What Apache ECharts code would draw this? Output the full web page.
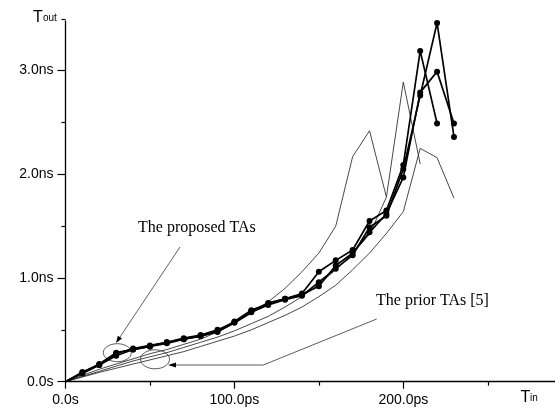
<!DOCTYPE html>
<html>
<head>
<meta charset="utf-8">
<script src="https://cdn.jsdelivr.net/npm/echarts@6/dist/echarts.min.js"></script>
<style>
  html, body { margin: 0; padding: 0; background: #fff; }
  #main { width: 555px; height: 408px; }
</style>
</head>
<body>
<div id="main"></div>
<script>
// input transition time, ps
const tin = [0, 10, 20, 30, 40, 50, 60, 70, 80, 90, 100, 110, 120, 130, 140, 150, 160, 170, 180, 190, 200, 210, 220, 230]

// proposed TAs (thick, dotted), ns
const propA = [0, 0.09, 0.17, 0.28, 0.31, 0.34, 0.38, 0.41, 0.44, 0.49, 0.58, 0.69, 0.75, 0.80, 0.85, 1.06, 1.17, 1.27, 1.55, 1.65, 2.09, 3.19, 2.49]
const propB = [0, 0.08, 0.16, 0.25, 0.31, 0.34, 0.37, 0.41, 0.44, 0.48, 0.57, 0.67, 0.74, 0.79, 0.83, 0.96, 1.09, 1.22, 1.49, 1.60, 2.05, 2.76, 3.46, 2.36]
const propC = [0, 0.09, 0.16, 0.27, 0.32, 0.35, 0.38, 0.42, 0.45, 0.50, 0.57, 0.68, 0.76, 0.80, 0.84, 0.92, 1.12, 1.24, 1.44, 1.62, 1.97, 2.79, 2.99, 2.49]

// prior TAs [5] (thin), ns
const priorA = [0, 0.06, 0.12, 0.17, 0.22, 0.27, 0.31, 0.36, 0.41, 0.48, 0.56, 0.66, 0.77, 0.90, 1.06, 1.24, 1.50, 2.17, 2.42, 1.78]
const priorB = [0, 0.05, 0.10, 0.15, 0.20, 0.24, 0.28, 0.33, 0.38, 0.43, 0.49, 0.56, 0.63, 0.72, 0.82, 0.94, 1.08, 1.24, 1.42, 1.78, 2.89, 2.10]
const priorC = [0, 0.045, 0.09, 0.13, 0.17, 0.21, 0.25, 0.29, 0.34, 0.39, 0.44, 0.50, 0.57, 0.64, 0.72, 0.82, 0.93, 1.08, 1.24, 1.43, 1.64, 2.25, 2.16, 1.77]

const pair = arr => arr.map((v, i) => [tin[i], v])

const chart = echarts.init(document.getElementById('main'))

const thick = (name, arr) => ({
  name, type: 'line', data: pair(arr),
  symbol: 'circle',
  symbolSize: v => v[0] === 0 ? 0 : 6,
  lineStyle: { color: '#000', width: 1.7 },
  itemStyle: { color: '#000' },
  animation: false, z: 3
})
const thin = (name, arr) => ({
  name, type: 'line', data: pair(arr),
  symbol: 'none',
  lineStyle: { color: '#333', width: 0.9 },
  animation: false, z: 2
})

const font = 'Liberation Sans, Arial, sans-serif'
const serif = 'Liberation Serif, Times New Roman, serif'

chart.setOption({
  backgroundColor: '#fff',
  grid: [
    { left: 65.5, right: -17.2, top: -33.1, bottom: 26.3, outerBoundsMode: 'none', containLabel: false },
    { left: 65.5, right: -17.2, top: 21, bottom: 26.3, outerBoundsMode: 'none', containLabel: false }
  ],
  xAxis: [{
    type: 'value', min: 0, max: 300, interval: 100, gridIndex: 0,
    axisLine: { lineStyle: { color: '#000', width: 1.3 } },
    axisTick: { length: 7, lineStyle: { color: '#000', width: 1.2 } },
    minorTick: { show: true, splitNumber: 2, length: 4, lineStyle: { color: '#000', width: 1.2 } },
    splitLine: { show: false },
    axisLabel: {
      margin: 11, color: '#000', fontSize: 14, fontFamily: font,
      formatter: v => v === 0 ? '0.0s' : (v > 250 ? '' : v.toFixed(1) + 'ps')
    }
  }, {
    type: 'value', min: 0, max: 300, gridIndex: 1, show: false
  }],
  yAxis: [{
    type: 'value', min: 0, max: 4, interval: 1, gridIndex: 0,
    axisLine: { show: false },
    axisTick: { length: 8, lineStyle: { color: '#000', width: 1.2 } },
    minorTick: { show: true, splitNumber: 2, length: 4, lineStyle: { color: '#000', width: 1.2 } },
    splitLine: { show: false },
    axisLabel: {
      margin: 12, color: '#000', fontSize: 14, fontFamily: font,
      formatter: v => v === 0 ? '0.0s' : (v > 3.5 ? '' : v.toFixed(1) + 'ns')
    }
  }, {
    type: 'value', min: 0, max: 3.48, gridIndex: 1,
    axisLine: { show: true, lineStyle: { color: '#000', width: 1.3 } },
    axisTick: { show: false }, axisLabel: { show: false }, splitLine: { show: false }
  }],
  series: [
    thin('prior A', priorA),
    thin('prior B', priorB),
    thin('prior C', priorC),
    thick('proposed A', propA),
    thick('proposed B', propB),
    thick('proposed C', propC)
  ],
  graphic: [
    { type: 'text', x: 33, y: 17.5, style: { text: 'T', font: '16px ' + font, fill: '#000', verticalAlign: 'middle' } },
    { type: 'text', x: 43, y: 18.5, style: { text: 'out', font: '10px ' + font, fill: '#000', verticalAlign: 'middle' } },
    { type: 'text', x: 520.5, y: 397.5, style: { text: 'T', font: '16px ' + font, fill: '#000', verticalAlign: 'middle' } },
    { type: 'text', x: 530, y: 398.5, style: { text: 'in', font: '10px ' + font, fill: '#000', verticalAlign: 'middle' } },
    { type: 'text', x: 138, y: 228, style: { text: 'The proposed TAs', font: '16px ' + serif, fill: '#000', verticalAlign: 'middle' } },
    { type: 'text', x: 376, y: 301, style: { text: 'The prior TAs [5]', font: '16px ' + serif, fill: '#000', verticalAlign: 'middle' } },
    { type: 'ellipse', shape: { cx: 117.3, cy: 352.7, rx: 14, ry: 9 }, style: { fill: 'none', stroke: '#333', lineWidth: 0.8 } },
    { type: 'ellipse', shape: { cx: 155, cy: 359.3, rx: 14.5, ry: 9.5 }, style: { fill: 'none', stroke: '#333', lineWidth: 0.8 } },
    { type: 'line', shape: { x1: 180, y1: 247, x2: 118, y2: 340 }, style: { stroke: '#333', lineWidth: 0.8 } },
    { type: 'polygon', shape: { points: [[116, 343], [122, 338.6], [117.8, 335.8]] }, style: { fill: '#000' } },
    { type: 'polyline', shape: { points: [[376.7, 319], [263.3, 365], [172, 365]] }, style: { stroke: '#333', lineWidth: 0.8, fill: 'none' } },
    { type: 'polygon', shape: { points: [[168, 365], [176, 362.5], [176, 367.5]] }, style: { fill: '#000' } }
  ]
})
</script>
</body>
</html>
